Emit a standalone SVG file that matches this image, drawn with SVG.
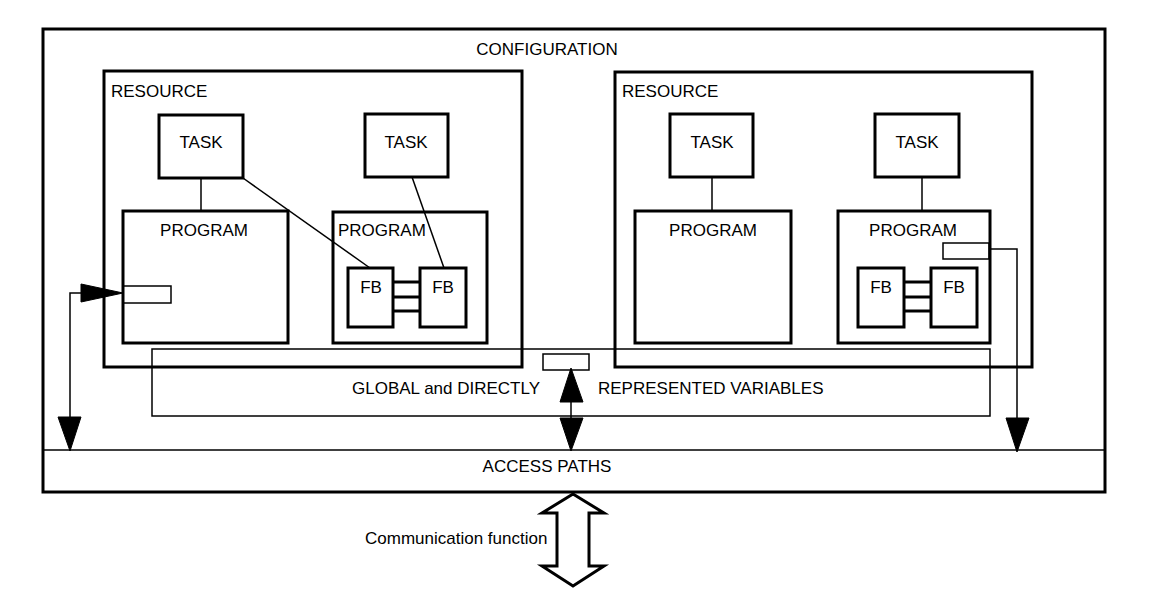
<svg xmlns="http://www.w3.org/2000/svg" width="1156" height="605" viewBox="0 0 1156 605">
<style>
.thick{fill:none;stroke:#000;stroke-width:3}
.thin{fill:none;stroke:#000;stroke-width:1.5}
.ln{stroke:#000;stroke-width:1.5;fill:none}
.bar{stroke:#000;stroke-width:3}
.head{fill:#000;stroke:#000;stroke-width:1}
text{font-family:"Liberation Sans",Arial,sans-serif;font-size:17px;fill:#000}
.c{text-anchor:middle}
</style>
<rect width="1156" height="605" fill="#fff"/>
<g id="configuration">
<rect class="thick" x="43" y="29" width="1062" height="463"/>
<text class="c" x="547" y="55">CONFIGURATION</text>
</g>
<g id="access-paths">
<line class="ln" x1="43" y1="450" x2="1105" y2="450"/>
<text class="c" x="547" y="472">ACCESS PATHS</text>
</g>
<g id="resource1">
<rect class="thick" x="104" y="71" width="418" height="296"/>
<text x="111" y="97">RESOURCE</text>
</g>
<g id="resource2">
<rect class="thick" x="615" y="72" width="417" height="295"/>
<text x="622" y="97">RESOURCE</text>
</g>
<g id="global-vars">
<rect class="thin" x="152" y="349" width="838" height="67"/>
<text x="352" y="394">GLOBAL and DIRECTLY</text>
<text x="598" y="394">REPRESENTED VARIABLES</text>
</g>
<g id="task1"><rect class="thick" x="159" y="115" width="84" height="63"/><text class="c" x="201" y="148">TASK</text></g>
<g id="task2"><rect class="thick" x="365" y="114" width="83" height="63"/><text class="c" x="406" y="148">TASK</text></g>
<g id="task3"><rect class="thick" x="670" y="114" width="83" height="63"/><text class="c" x="712" y="148">TASK</text></g>
<g id="task4"><rect class="thick" x="875" y="114" width="84" height="63"/><text class="c" x="917" y="148">TASK</text></g>
<g id="program1"><rect class="thick" x="123" y="211" width="165" height="132"/><text class="c" x="204" y="236">PROGRAM</text></g>
<g id="program2"><rect class="thick" x="333" y="212" width="154" height="131"/><text x="338" y="236">PROGRAM</text></g>
<g id="program3"><rect class="thick" x="635" y="211" width="156" height="132"/><text class="c" x="713" y="236">PROGRAM</text></g>
<g id="program4"><rect class="thick" x="838" y="211" width="152" height="132"/><text class="c" x="913" y="236">PROGRAM</text></g>
<g id="fb1"><rect class="thick" x="348" y="268" width="45" height="59"/><text class="c" x="371" y="293">FB</text></g>
<g id="fb2"><rect class="thick" x="420" y="268" width="46" height="59"/><text class="c" x="443" y="293">FB</text></g>
<g id="fb3"><rect class="thick" x="858" y="268" width="46" height="59"/><text class="c" x="881" y="293">FB</text></g>
<g id="fb4"><rect class="thick" x="931" y="268" width="46" height="59"/><text class="c" x="954" y="293">FB</text></g>
<g id="var1"><rect class="thin" x="123" y="286" width="48" height="17"/></g>
<g id="var2"><rect class="thin" x="543" y="354" width="46" height="16"/></g>
<g id="var3"><rect class="thin" x="943" y="243" width="46" height="16"/></g>
<g id="connectors">
<line class="ln" x1="201" y1="178" x2="201" y2="211"/>
<line class="ln" x1="243" y1="178" x2="370" y2="268"/>
<line class="ln" x1="412" y1="177" x2="444" y2="268"/>
<line class="ln" x1="712" y1="177" x2="712" y2="211"/>
<line class="ln" x1="922" y1="177" x2="922" y2="211"/>
<line class="bar" x1="393" y1="282" x2="420" y2="282"/>
<line class="bar" x1="393" y1="297" x2="420" y2="297"/>
<line class="bar" x1="393" y1="311" x2="420" y2="311"/>
<line class="bar" x1="904" y1="282" x2="931" y2="282"/>
<line class="bar" x1="904" y1="297" x2="931" y2="297"/>
<line class="bar" x1="904" y1="311" x2="931" y2="311"/>
<polyline class="ln" points="81,293 70,293 70,420"/>
<polygon class="head" points="81,284 81,302 123,293"/>
<polygon class="head" points="58,417 81,417 70,451"/>
<line class="ln" x1="571" y1="400" x2="571" y2="420"/>
<polygon class="head" points="560,402 583,402 571,368"/>
<polygon class="head" points="560,418 583,418 571,451"/>
<polyline class="ln" points="990,249 1017,249 1017,420"/>
<polygon class="head" points="1006,418 1029,418 1017,452"/>
</g>
<g id="communication">
<polygon class="thick" points="573,494 604,513 589,513 589,566 604,566 573,586 542,566 557,566 557,513 542,513"/>
<text x="365" y="544">Communication function</text>
</g>
</svg>
